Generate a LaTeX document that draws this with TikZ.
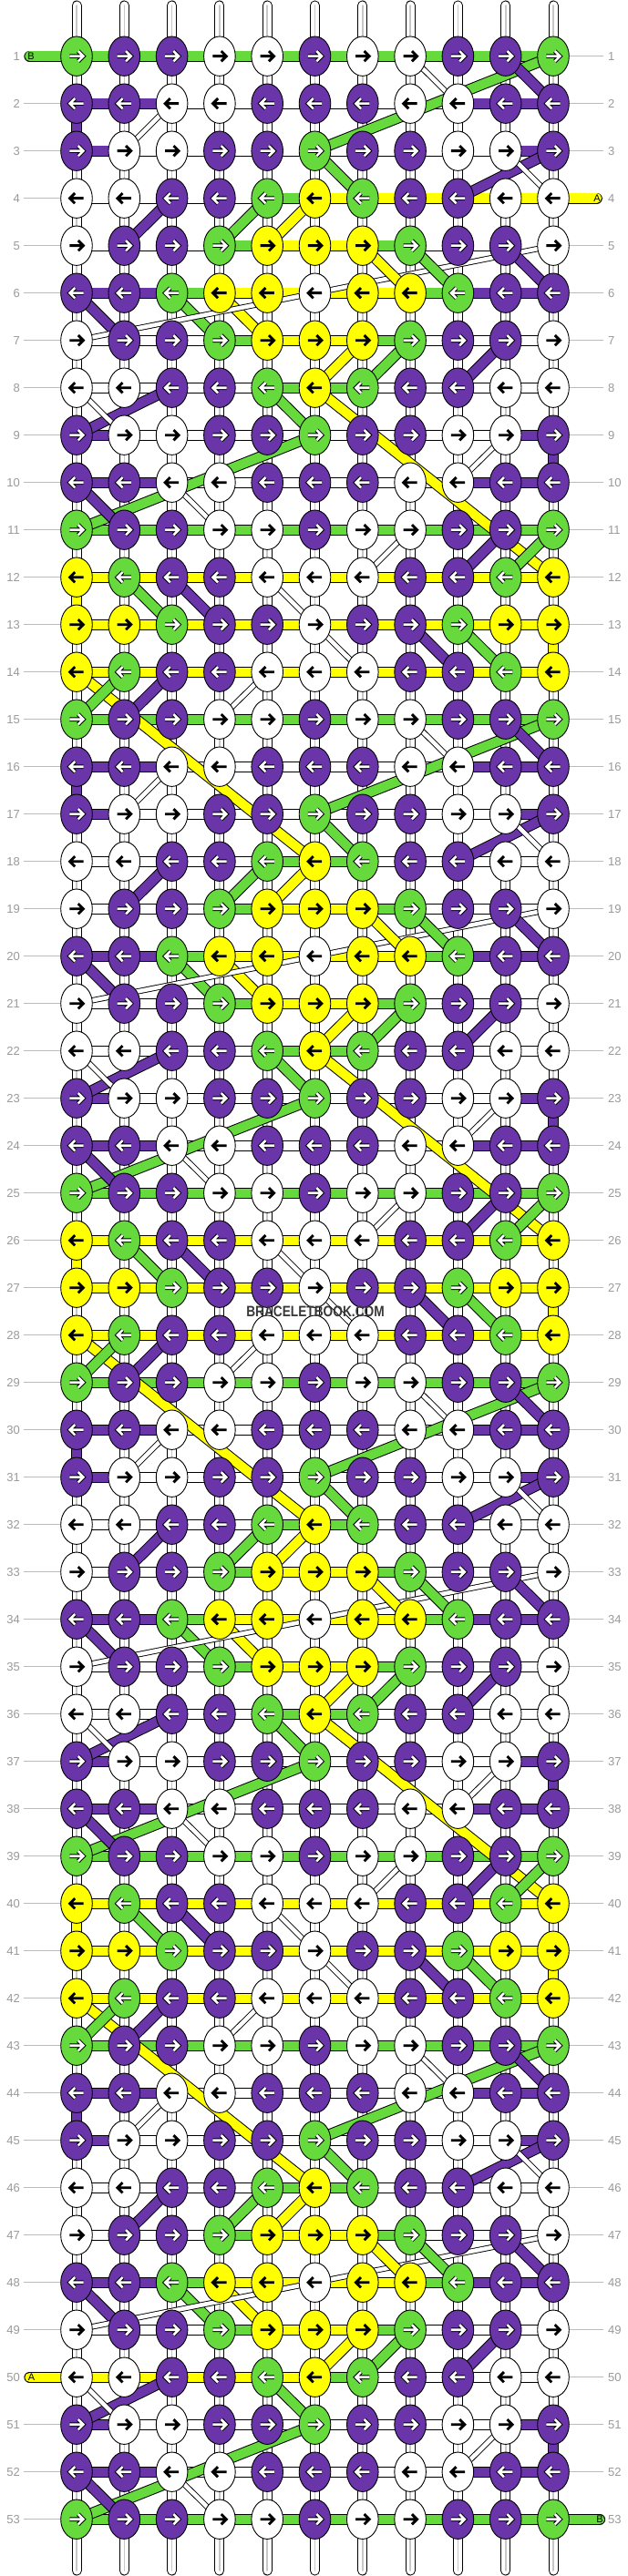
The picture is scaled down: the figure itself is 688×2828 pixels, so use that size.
\documentclass[tikz,border=0pt]{standalone}
\usepackage{fontspec}
\setmainfont{Liberation Sans}
\usetikzlibrary{shapes.geometric}
\definecolor{kP}{HTML}{6A35A8}
\definecolor{kG}{HTML}{66D93C}
\definecolor{kY}{HTML}{FFFF00}
\definecolor{kW}{HTML}{FFFFFF}
\definecolor{lab}{HTML}{9A9A9A}
\definecolor{labl}{HTML}{BBBBBB}
\def\knotpat#1{\ifcase#1 G,P,P,W,W,P,W,W,P,P,G\or P,P,W,W,P,P,P,W,W,P,P\or P,W,W,P,P,G,P,P,W,W,P\or W,W,P,P,G,Y,G,P,P,W,W\or W,P,P,G,Y,Y,Y,G,P,P,W\or P,P,G,Y,Y,W,Y,Y,G,P,P\or W,P,P,G,Y,Y,Y,G,P,P,W\or W,W,P,P,G,Y,G,P,P,W,W\or P,W,W,P,P,G,P,P,W,W,P\or P,P,W,W,P,P,P,W,W,P,P\or G,P,P,W,W,P,W,W,P,P,G\or Y,G,P,P,W,W,W,P,P,G,Y\or Y,Y,G,P,P,W,P,P,G,Y,Y\or Y,G,P,P,W,W,W,P,P,G,Y\fi}
\def\barpat#1{\ifcase#1 G,G,G,G,G,G,G,G,G,G\or P,P,W,W,W,W,W,W,P,P\or P,W,W,W,W,W,W,W,W,P\or W,W,W,W,G,G,W,W,W,W\or W,W,W,G,Y,Y,G,W,W,W\or P,P,G,Y,Y,Y,Y,G,P,P\or W,W,W,G,Y,Y,G,W,W,W\or W,W,W,W,G,G,W,W,W,W\or P,W,W,W,W,W,W,W,W,P\or P,P,W,W,W,W,W,W,P,P\or G,G,G,G,G,G,G,G,G,G\or Y,Y,Y,Y,Y,Y,Y,Y,Y,Y\or Y,Y,Y,Y,Y,Y,Y,Y,Y,Y\or Y,Y,Y,Y,Y,Y,Y,Y,Y,Y\fi}
\tikzset{
  knot/.style={ellipse, minimum width=34.6pt, minimum height=43.4pt, inner sep=0pt, draw=black, line width=0.9pt},
  bar/.style={draw=black, line width=12.2pt, postaction={draw=#1, line width=10.4pt}},
  cstr/.style={draw=black, line width=12.2pt, postaction={draw=#1, line width=10.2pt}},
  wstr/.style={draw=black, line width=6.4pt, postaction={draw=white, line width=4.6pt}},
  basestr/.style={draw=black, line width=11pt, line cap=round, postaction={draw=white, line width=9pt, line cap=round, postaction={draw=black!22, line width=1.6pt, line cap=round}}},
  tabstr/.style={draw=black, line width=12.2pt, line cap=round, postaction={draw=#1, line width=10.4pt, line cap=round}},
  lab/.style={text=lab, font=\fontsize{13pt}{13pt}\selectfont, inner sep=0pt},
  labline/.style={draw=labl, line width=1pt},
  tabtext/.style={font=\fontsize{11pt}{11pt}\selectfont, inner sep=0pt, text=black},
  arrW/.style={draw=black, line width=4.6pt, postaction={draw=white, line width=2.6pt}},
  arrB/.style={draw=black, line width=2.9pt}
}
\begin{document}
\begin{tikzpicture}[x=1pt,y=-1pt]
\useasboundingbox (0,0) rectangle (688,2828);
\fill[white] (0,0) rectangle (688,2828);
% grid coordinates
\foreach \r in {1,...,53}{
  \foreach \c in {1,...,11}{
    \coordinate (p-\r-\c) at ({84+(\c-1)*52.3},{61.7+(\r-1)*52});
  }
}
% base strings
\foreach \c in {1,...,11}{
  \coordinate (top-\c) at ({84+(\c-1)*52.3},6);
  \coordinate (bot-\c) at ({84+(\c-1)*52.3},2822);
  \draw[basestr] (top-\c) -- (bot-\c);
}
% row label lines
\foreach \r in {1,...,53}{
  \coordinate (ll-\r) at (26,{61.7+(\r-1)*52});
  \coordinate (rl-\r) at (662,{61.7+(\r-1)*52});
  \draw[labline] (ll-\r) -- (p-\r-1);
  \draw[labline] (p-\r-11) -- (rl-\r);
  \node[lab, anchor=east] (lt-\r) at (22,{61.7+(\r-1)*52}) {\r};
  \node[lab, anchor=west] (rt-\r) at (667,{61.7+(\r-1)*52}) {\r};
}
% tabs
\coordinate (tabB1) at (32.5,61.7);
\coordinate (tabA1) at (654.7,{61.7+3*52});
\coordinate (tabA2) at (32.5,{61.7+49*52});
\coordinate (tabB2) at (658,{61.7+52*52});
\draw[tabstr=kG] (tabB1) -- (p-1-1);
\draw[tabstr=kY] (p-4-11) -- (tabA1);
\draw[tabstr=kY] (tabA2) -- (p-50-1);
\draw[tabstr=kG] (p-53-11) -- (tabB2);
\node[tabtext] (tB1) at (34,61.7) {B};
\node[tabtext] (tA1) at (655,{61.7+3*52}) {A};
\node[tabtext] (tA2) at (34.5,{61.7+49*52}) {A};
\node[tabtext] (tB2) at (658,{61.7+52*52}) {B};
% horizontal bars
\foreach \r in {1,...,53}{
  \pgfmathtruncatemacro\idx{mod(\r-1,14)}
  \ifnum\r=4 \def\bl{W,W,W,W,G,Y,Y,Y,Y,Y}\else
    \ifnum\r=50 \def\bl{Y,Y,Y,Y,Y,G,W,W,W,W}\else
      \edef\bl{\barpat{\idx}}\fi\fi
  \foreach \c [count=\k] in \bl {
    \pgfmathtruncatemacro\kk{\k+1}
    \draw[bar=k\c] (p-\r-\k) -- (p-\r-\kk);
  }
}
% diagonal and vertical strands (period of 14 rows)
\foreach \o in {-14,0,14,28}{
  \foreach \s/\ra/\ca/\rb/\cb in {
    Y/14/1/18/6, G/14/2/15/1, P/14/3/15/2, W/14/5/15/4,
    W/15/8/16/9, G/15/11/17/6, P/15/10/16/11,
    P/16/1/17/1, W/16/3/17/2,
    G/17/6/18/7, P/17/11/18/9, W/17/10/18/11,
    P/18/3/19/2, G/18/5/19/4, Y/18/6/19/5,
    W/19/11/20/6, Y/19/7/20/8, G/19/8/20/9, P/19/10/20/11,
    P/20/1/21/2, G/20/3/21/4, Y/20/4/21/5, W/20/6/21/1,
    Y/21/7/22/6, G/21/8/22/7, P/21/10/22/9,
    P/22/3/23/1, W/22/1/23/2, G/22/5/23/6, Y/22/6/26/11,
    G/23/6/25/1, W/23/10/24/9, P/23/11/24/11,
    P/24/1/25/2, W/24/3/25/4,
    W/25/8/26/7, P/25/10/26/9, G/25/11/26/10,
    Y/26/1/27/1, G/26/2/27/3, P/26/3/27/4, W/26/5/27/6,
    W/27/6/28/7, P/27/8/28/9, G/27/9/28/10, Y/27/11/28/11}{
    \pgfmathtruncatemacro\rA{\ra+\o}
    \pgfmathtruncatemacro\rB{\rb+\o}
    \ifnum\rA>0 \ifnum\rB<54
      \if\s W\draw[wstr] (p-\rA-\ca) -- (p-\rB-\cb);
      \else\draw[cstr=k\s] (p-\rA-\ca) -- (p-\rB-\cb);\fi
    \fi\fi
  }
}
% knots
\foreach \r in {1,...,53}{
  \pgfmathtruncatemacro\idx{mod(\r-1,14)}
  \ifodd\r \def\dir{1}\else\def\dir{-1}\fi
  \edef\kl{\knotpat{\idx}}
  \foreach \c [count=\k] in \kl {
    \node[knot, fill=k\c] (n-\r-\k) at (p-\r-\k) {};
    \begin{scope}[shift={(p-\r-\k)}, xscale=\dir]
      \if\c P\def\ast{arrW}\else\if\c G\def\ast{arrW}\else\def\ast{arrB}\fi\fi
      \draw[\ast] (-7.6,0) -- (6.6,0) (1.8,-5.6) -- (7.4,0) -- (1.8,5.6);
    \end{scope}
  }
}
% watermark
\node[inner sep=0pt, text=black!78, font=\bfseries\fontsize{16.5pt}{16.5pt}\selectfont] (wm) at (346,1440) {\scalebox{0.83}[1]{BRACELETBOOK.COM}};
\end{tikzpicture}
\end{document}
